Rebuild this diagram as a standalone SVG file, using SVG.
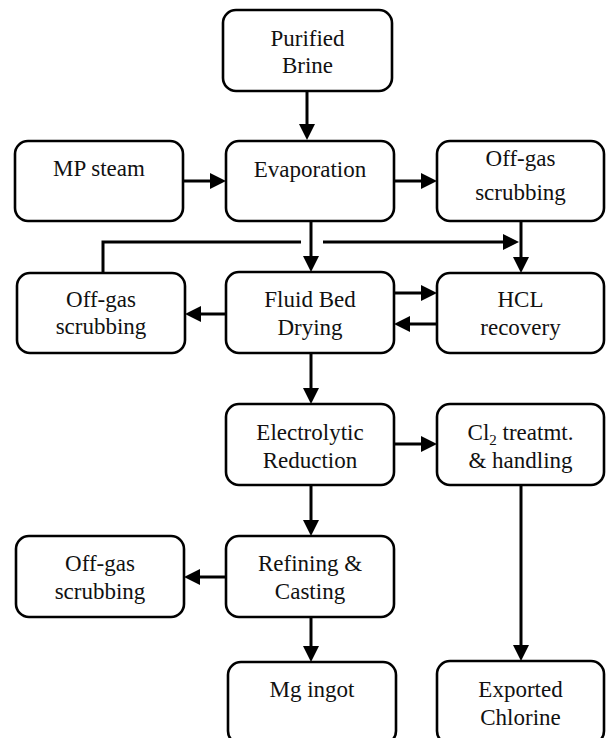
<svg xmlns="http://www.w3.org/2000/svg" width="606" height="738" viewBox="0 0 606 738" font-family="Liberation Serif, Times New Roman, serif">
<style>
.box{fill:#fff;stroke:#000;stroke-width:2.6}
text{font-size:23px;fill:#111;text-anchor:middle}
.c{fill:none;stroke:#000;stroke-width:3}
.a{marker-end:url(#ah)}
</style>
<defs>
<marker id="ah" markerUnits="userSpaceOnUse" markerWidth="16" markerHeight="16" viewBox="0 0 16 16" refX="6" refY="8" orient="auto">
<path d="M0,0 L16,8 L0,16 z" fill="#000"/>
</marker>
</defs>
<rect width="606" height="738" fill="#fff"/>
<g id="connectors">
<path class="c a" d="M307,91 V130"/>
<path class="c a" d="M183,181 H216"/>
<path class="c a" d="M394,181 H427"/>
<path class="c a" d="M311,221 V262"/>
<path class="c" d="M103,273 V242 H301"/>
<path class="c a" d="M323,242 H509"/>
<path class="c a" d="M521,221 V263"/>
<path class="c a" d="M394,293 H427"/>
<path class="c a" d="M437,324 H404"/>
<path class="c a" d="M226,314 H195"/>
<path class="c a" d="M311,353 V394"/>
<path class="c a" d="M394,444 H427"/>
<path class="c a" d="M521,485 V651"/>
<path class="c a" d="M311,485 V526"/>
<path class="c a" d="M226,577 H194"/>
<path class="c a" d="M311,617 V652"/>
</g>
<g id="purified-brine"><rect class="box" x="223" y="10" width="169" height="81" rx="13"/><text x="307.5" y="46">Purified</text><text x="307.5" y="73">Brine</text></g>
<g id="mp-steam"><rect class="box" x="15" y="141" width="168" height="80" rx="13"/><text x="99" y="176">MP steam</text></g>
<g id="evaporation"><rect class="box" x="226" y="141" width="168" height="80" rx="13"/><text x="310" y="177">Evaporation</text></g>
<g id="offgas-top"><rect class="box" x="437" y="141" width="167" height="80" rx="13"/><text x="520.5" y="166">Off-gas</text><text x="520.5" y="200">scrubbing</text></g>
<g id="offgas-left"><rect class="box" x="17" y="273" width="168" height="80" rx="13"/><text x="101" y="307">Off-gas</text><text x="101" y="334">scrubbing</text></g>
<g id="fluid-bed"><rect class="box" x="226" y="272" width="168" height="81" rx="13"/><text x="310" y="307">Fluid Bed</text><text x="310" y="335">Drying</text></g>
<g id="hcl"><rect class="box" x="437" y="273" width="167" height="80" rx="13"/><text x="520.5" y="307">HCL</text><text x="520.5" y="335">recovery</text></g>
<g id="electrolytic"><rect class="box" x="226" y="404" width="168" height="81" rx="13"/><text x="310" y="440">Electrolytic</text><text x="310" y="468">Reduction</text></g>
<g id="cl2"><rect class="box" x="437" y="404" width="167" height="81" rx="13"/><text x="520.5" y="440">Cl<tspan font-size="15" dy="5">2</tspan><tspan dy="-5"> treatmt.</tspan></text><text x="520.5" y="468">&amp; handling</text></g>
<g id="offgas-bottom"><rect class="box" x="16" y="536" width="168" height="81" rx="13"/><text x="100" y="571">Off-gas</text><text x="100" y="599">scrubbing</text></g>
<g id="refining"><rect class="box" x="226" y="536" width="168" height="81" rx="13"/><text x="310" y="571">Refining &amp;</text><text x="310" y="599">Casting</text></g>
<g id="mg-ingot"><rect class="box" x="228" y="662" width="168" height="82" rx="13"/><text x="312" y="697">Mg ingot</text></g>
<g id="exported"><rect class="box" x="437" y="661" width="167" height="83" rx="13"/><text x="520.5" y="697">Exported</text><text x="520.5" y="725">Chlorine</text></g>
</svg>
